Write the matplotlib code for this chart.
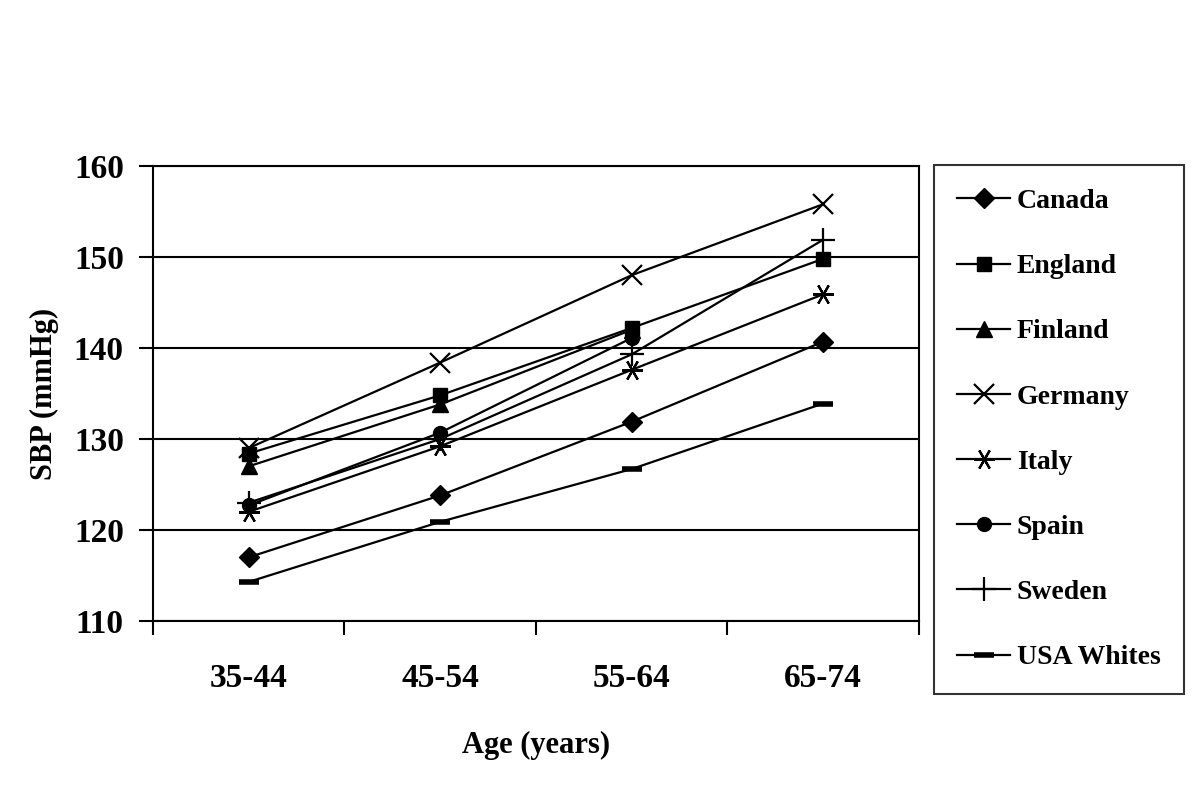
import matplotlib.pyplot as plt
import numpy as np

plt.rcParams["font.family"] = ["Liberation Serif", "DejaVu Serif"]
plt.rcParams["font.weight"] = "bold"

age_groups = ["35-44", "45-54", "55-64", "65-74"]
countries = ["Canada", "England", "Finland", "Germany", "Italy", "Spain", "Sweden", "USA Whites"]
canada = [117.0, 123.8, 131.9, 140.7]
england = [128.4, 134.8, 142.2, 149.8]
finland = [127.0, 133.8, 142.0, np.nan]
germany = [129.0, 138.4, 148.0, 155.8]
italy = [122.0, 129.2, 137.6, 145.9]
spain = [122.7, 130.7, 141.1, np.nan]
sweden = [123.0, 130.0, 139.3, 151.9]
usa_whites = [114.3, 120.9, 126.7, 133.9]

series = [canada, england, finland, germany, italy, spain, sweden, usa_whites]
markers = [
    dict(marker="D", ms=10, mfc="black", mec="black"),
    dict(marker="s", ms=10, mfc="black", mec="black"),
    dict(marker="^", ms=11, mfc="black", mec="black"),
    dict(marker="x", ms=14, mfc="black", mec="black", mew=1.6),
    dict(marker=(6, 2, 90), ms=15, mfc="black", mec="black", mew=1.6),
    dict(marker="o", ms=10, mfc="black", mec="black"),
    dict(marker="+", ms=17, mfc="black", mec="black", mew=1.6),
    dict(marker="_", ms=14, mfc="black", mec="black", mew=4),
]

fig = plt.figure(figsize=(12, 8.01), dpi=100)
ax = fig.add_axes([0.1275, 0.2247, 0.6383, 0.5681])

x = np.arange(len(age_groups))
for vals, name, mk in zip(series, countries, markers):
    ax.plot(x, vals, color="black", lw=1.6, label=name, **mk)

ax.set_xlim(-0.5, 3.5)
ax.set_ylim(110, 160)
ax.set_yticks([110, 120, 130, 140, 150, 160])
ax.yaxis.grid(True, color="black", lw=1.5)
ax.set_axisbelow(True)

ax.set_xticks(np.arange(-0.5, 4, 1))
ax.set_xticklabels([])
ax.set_xticks(x, minor=True)
ax.set_xticklabels(age_groups, minor=True)
ax.tick_params(axis="x", which="major", direction="out", length=10, width=1.5)
ax.tick_params(axis="x", which="minor", length=0, pad=30, labelsize=24)
ax.tick_params(axis="y", direction="out", length=10, width=1.5, pad=11, labelsize=24)
for lab in ax.get_xticklabels(minor=True) + ax.get_yticklabels():
    lab.set_fontweight("bold")
for s in ax.spines.values():
    s.set_linewidth(1.5)

ax.set_xlabel("Age (years)", fontsize=22, fontweight="bold", labelpad=27)
ax.set_ylabel("SBP (mmHg)", fontsize=22, fontweight="bold", labelpad=11)

leg = fig.legend(loc="upper left", bbox_to_anchor=(0.778, 0.794), fontsize=20,
                 frameon=True, fancybox=False, edgecolor="black", labelspacing=1.43,
                 handlelength=1.9, handletextpad=0.25, borderpad=0.85, borderaxespad=0)
leg.get_frame().set_linewidth(1.5)
for t in leg.get_texts():
    t.set_fontweight("bold")

fig.savefig("out.png", dpi=100)
